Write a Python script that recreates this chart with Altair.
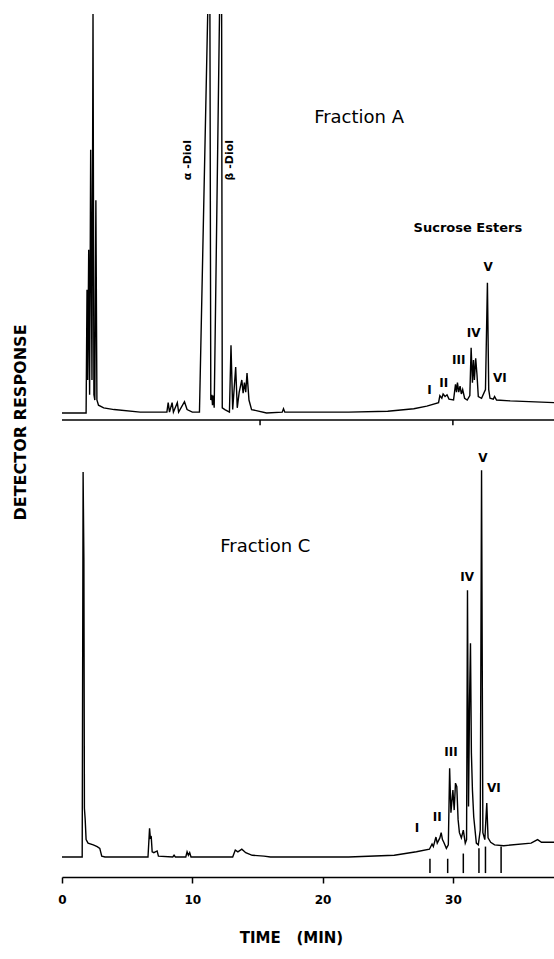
import altair as alt
import pandas as pd

# ---------------- data ----------------
# Fraction C (lower trace): time (min) and detector response (chart units, 0 = lower axis)
time_C = [0, 1.5, 1.55, 1.62, 1.68, 1.72, 1.78, 1.85, 2.0, 2.4,
          2.7, 2.9, 3.05, 3.3, 6.6, 6.72, 6.78, 6.85, 6.92, 7.05,
          7.3, 7.4, 8.5, 8.6, 8.7, 9.5, 9.6, 9.7, 9.8, 9.9,
          13.1, 13.3, 13.5, 13.8, 14.1, 14.6, 15.5, 16, 22, 25.5,
          27.2, 28.2, 28.4, 28.5, 28.7, 28.8, 29.0, 29.1, 29.2, 29.3,
          29.5, 29.65, 29.75, 29.85, 30.0, 30.1, 30.2, 30.3, 30.4, 30.5,
          30.65, 30.8, 30.95, 31.05, 31.12, 31.2, 31.28, 31.35, 31.42, 31.5,
          31.6, 31.8, 31.95, 32.1, 32.2, 32.3, 32.45, 32.6, 32.7, 32.9,
          33.2, 33.9, 36.0, 36.5, 36.8, 37.76]
resp_C = [2.3, 2.3, 2.3, 46.6, 36.5, 7.9, 6.6, 4.3, 3.9, 3.7,
          3.5, 3.3, 2.4, 2.3, 2.3, 5.6, 4.5, 4.6, 2.9, 2.8,
          3.0, 2.4, 2.3, 2.5, 2.3, 2.3, 2.9, 2.5, 2.8, 2.3,
          2.3, 3.1, 2.9, 3.2, 2.8, 2.5, 2.4, 2.3, 2.3, 2.5,
          2.9, 3.2, 3.8, 3.5, 4.6, 3.9, 4.5, 5.1, 4.3, 4.0,
          3.3, 3.7, 12.5, 7.4, 10.0, 7.7, 10.8, 10.4, 6.6, 5.1,
          4.5, 5.4, 3.9, 4.3, 33.0, 8.1, 20.4, 26.9, 14.3, 10.0,
          6.9, 3.9, 3.7, 5.4, 46.8, 5.1, 4.3, 8.5, 4.5, 4.0,
          3.7, 3.6, 3.9, 4.3, 4.0, 4.0]

# Fraction A (upper trace): response relative to its own axis line (off-scale peaks exceed the top)
time_A = [0, 1.85, 1.92, 1.97, 2.05, 2.12, 2.2, 2.3, 2.38, 2.45,
          2.52, 2.6, 2.68, 2.8, 3.2, 4.0, 6.0, 8.05, 8.15, 8.25,
          8.45, 8.55, 8.85, 8.95, 9.4, 9.6, 10.0, 10.55, 11.2, 11.35,
          11.42, 11.5, 11.55, 11.62, 11.68, 12.1, 12.25, 12.3, 12.5, 12.85,
          12.97, 13.1, 13.33, 13.45, 13.6, 13.8, 13.9, 14.0, 14.1, 14.2,
          14.35, 14.55, 15.7, 16.9, 17.0, 17.1, 22, 25, 27, 28.0,
          28.9, 29.0, 29.15, 29.25, 29.4, 29.55, 29.7, 30.05, 30.2, 30.28,
          30.35, 30.45, 30.55, 30.65, 30.75, 30.9, 31.1, 31.3, 31.4, 31.5,
          31.58, 31.65, 31.75, 31.85, 31.95, 32.2, 32.5, 32.65, 32.75, 32.85,
          33.1, 33.2, 33.35, 34.4, 37.76]
resp_A = [0.8, 0.8, 15.0, 4.6, 19.6, 2.9, 31.1, 4.6, 46.8, 2.9,
          2.3, 25.3, 2.3, 1.7, 1.4, 1.2, 0.9, 0.9, 2.0, 0.9,
          2.0, 0.9, 2.0, 0.9, 2.1, 1.2, 0.9, 0.9, 48, 48,
          2.3, 2.9, 1.7, 2.8, 1.4, 48, 48, 1.4, 1.2, 0.9,
          8.6, 1.2, 6.1, 1.4, 3.2, 4.6, 3.1, 4.3, 3.2, 5.4,
          2.3, 1.2, 0.8, 0.9, 1.3, 0.9, 0.9, 1.0, 1.3, 1.6,
          2.0, 2.8, 2.5, 3.0, 2.7, 2.9, 2.4, 2.3, 4.1, 3.2,
          4.3, 3.2, 3.9, 3.0, 3.5, 2.5, 2.3, 2.8, 8.3, 4.3,
          6.9, 4.6, 7.1, 5.2, 2.7, 2.5, 3.5, 15.8, 3.5, 2.5,
          2.4, 2.7, 2.3, 2.2, 2.0]

# fraction-collection marks under Fraction C
cut_times_C = [28.24, 29.6, 30.8, 32.0, 32.5, 33.7]
cut_top_C = [2.1, 2.1, 2.7, 3.3, 3.5, 3.5]
cut_bottom_C = [0.45, 0.45, 0.45, 0.45, 0.45, 0.45]

# tick marks on the upper panel's time axis
top_axis_ticks = [15.2, 30.0]

# peak labels
numerals = ["I", "II", "III", "IV", "V", "VI"]
num_t_A = [28.2, 29.3, 30.45, 31.6, 32.7, 33.6]
num_r_A = [3.45, 4.26, 6.9, 10.0, 17.6, 4.83]
num_t_C = [27.25, 28.8, 29.85, 31.1, 32.3, 33.15]
num_r_C = [5.6, 6.9, 14.4, 34.5, 48.2, 10.2]

fraction_labels = ["Fraction A", "Fraction C"]
fraction_panel = ["A", "C"]
fraction_t = [22.8, 15.6]
fraction_r = [34.75, 38.0]

group_labels = ["Sucrose Esters"]
group_t = [31.15]
group_r = [22.1]

diol_labels = ["\u03b1 -Diol", "\u03b2 -Diol"]
diol_t = [9.67, 12.89]
diol_r = [29.9, 29.9]

# ---------------- layout constants ----------------
A_OFFSET = 52.59     # where the upper panel's axis sits on the shared scale
X_MAX = 37.76
Y_MAX = 99.31
TICK_LEN = 0.6
FONT = "DejaVu Sans"

# ---------------- tables ----------------
dfC = pd.DataFrame({"t": time_C, "y": resp_C})
dfC["i"] = range(len(dfC))
dfA = pd.DataFrame({"t": time_A, "r": resp_A})
dfA["y"] = dfA["r"] + A_OFFSET
dfA["i"] = range(len(dfA))

df_cuts = pd.DataFrame({"t": cut_times_C, "y": cut_top_C, "y2": cut_bottom_C})
df_top_axis = pd.DataFrame({"t": [0.0], "t2": [X_MAX], "y": [A_OFFSET]})
df_top_ticks = pd.DataFrame({"t": top_axis_ticks,
                             "y": [A_OFFSET] * len(top_axis_ticks),
                             "y2": [A_OFFSET - TICK_LEN] * len(top_axis_ticks)})

df_num = pd.concat([
    pd.DataFrame({"label": numerals, "t": num_t_A, "y": [r + A_OFFSET for r in num_r_A]}),
    pd.DataFrame({"label": numerals, "t": num_t_C, "y": num_r_C}),
])
df_frac = pd.DataFrame({
    "label": fraction_labels, "t": fraction_t,
    "y": [r + (A_OFFSET if p == "A" else 0) for r, p in zip(fraction_r, fraction_panel)],
})
df_group = pd.DataFrame({"label": group_labels, "t": group_t,
                         "y": [r + A_OFFSET for r in group_r]})
df_diol = pd.DataFrame({"label": diol_labels, "t": diol_t,
                        "y": [r + A_OFFSET for r in diol_r]})

# ---------------- encodings ----------------
X = alt.X("t:Q",
          scale=alt.Scale(domain=[0, X_MAX], nice=False, zero=False),
          axis=alt.Axis(values=[0, 10, 20, 30], format="d", grid=False,
                        title="TIME\u00a0\u00a0\u00a0(MIN)",
                        domainColor="black", domainWidth=1.5,
                        tickColor="black", tickWidth=1.5, tickSize=6,
                        labelFlush=False, labelPadding=11,
                        labelFont=FONT, labelFontSize=12, labelFontWeight="bold",
                        labelColor="black",
                        titleFont=FONT, titleFontSize=15, titleFontWeight="bold",
                        titleColor="black", titleX=229, titleY=65,
                        titleAlign="center", titleBaseline="alphabetic"))
Y = alt.Y("y:Q",
          scale=alt.Scale(domain=[0, Y_MAX], nice=False, zero=False),
          axis=alt.Axis(title="DETECTOR RESPONSE", labels=False, ticks=False,
                        domain=False, grid=False,
                        titleFont=FONT, titleFontSize=16, titleFontWeight="bold",
                        titleColor="black", titleX=-42, titleY=408, titleAngle=270,
                        titleAlign="center", titleBaseline="middle"))

trace_C = alt.Chart(dfC).mark_line(color="black", strokeWidth=1.4, clip=True).encode(
    x=X, y=Y, order="i:Q")
trace_A = alt.Chart(dfA).mark_line(color="black", strokeWidth=1.4, clip=True).encode(
    x=X, y=Y, order="i:Q")

cuts = alt.Chart(df_cuts).mark_rule(color="black", strokeWidth=1.5).encode(
    x=X, y=Y, y2="y2:Q")
top_axis = alt.Chart(df_top_axis).mark_rule(color="black", strokeWidth=1.5).encode(
    x=X, x2="t2:Q", y=Y)
top_ticks = alt.Chart(df_top_ticks).mark_rule(color="black", strokeWidth=1.5).encode(
    x=X, y=Y, y2="y2:Q")

num_text = alt.Chart(df_num).mark_text(
    font=FONT, fontSize=12, fontWeight="bold", color="black",
    align="center", baseline="middle").encode(x=X, y=Y, text="label:N")
frac_text = alt.Chart(df_frac).mark_text(
    font=FONT, fontSize=18, fontWeight="normal", color="black",
    align="center", baseline="middle").encode(x=X, y=Y, text="label:N")
group_text = alt.Chart(df_group).mark_text(
    font=FONT, fontSize=13, fontWeight="bold", color="black",
    align="center", baseline="middle").encode(x=X, y=Y, text="label:N")
diol_text = alt.Chart(df_diol).mark_text(
    font=FONT, fontSize=11, fontWeight="bold", color="black", angle=270,
    align="center", baseline="middle").encode(x=X, y=Y, text="label:N")

chart = alt.layer(
    trace_C, trace_A, cuts, top_axis, top_ticks,
    num_text, frac_text, group_text, diol_text
).properties(
    width=492, height=863,
    autosize=alt.AutoSizeParams(type="none"),
    padding={"left": 62, "top": 14, "right": 0, "bottom": 82},
    background="white",
).configure_view(stroke=None)

chart.save("out.html", embed_options={"renderer": "svg", "actions": False})
